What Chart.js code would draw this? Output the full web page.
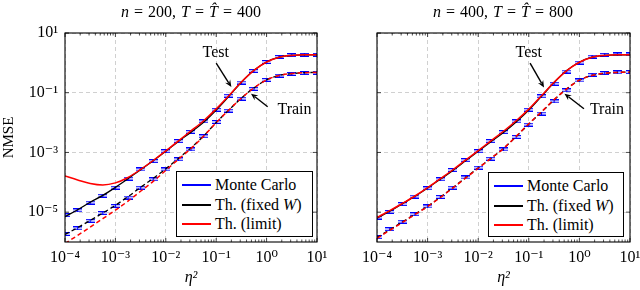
<!DOCTYPE html>
<html><head><meta charset="utf-8">
<script src="https://cdn.jsdelivr.net/npm/chart.js@4.4.1/dist/chart.umd.min.js"></script>
<style>
html,body{margin:0;padding:0;background:#fff;}
#wrap{position:relative;width:640px;height:290px;overflow:hidden;font-family:'Liberation Serif','DejaVu Serif',serif;color:#000;}
canvas{position:absolute;top:0;}
.title{position:absolute;top:3px;font-size:16px;line-height:17px;white-space:nowrap;transform:translateX(-50%);word-spacing:1px;}
.legend{position:absolute;background:#fff;border:1px solid #000;box-sizing:border-box;font-size:16px;z-index:5;}
.row{position:absolute;left:0;height:20px;line-height:20px;white-space:nowrap;}
.sw{position:absolute;left:5px;width:29px;height:2px;}
.tx{position:absolute;left:38px;top:0;}
i{font-style:italic;}
</style></head>
<body><div id="wrap">
<canvas id="cL" width="345" height="290" style="left:0"></canvas>
<canvas id="cR" width="330" height="290" style="left:320px"></canvas>
<div class="title" style="left:191px"><i>n</i> = 200, <i>T</i> = <i>T̂</i> = 400</div>
<div class="title" style="left:503px"><i>n</i> = 400, <i>T</i> = <i>T̂</i> = 800</div>
<div class="legend" style="left:176px;top:171px;width:137px;height:66px">
 <div class="row" style="top:3px"><div class="sw" style="top:9px;background:#0000ff"></div><span class="tx">Monte Carlo</span></div>
 <div class="row" style="top:23px"><div class="sw" style="top:9px;background:#000"></div><span class="tx">Th. (fixed <i>W</i>)</span></div>
 <div class="row" style="top:42px"><div class="sw" style="top:9px;background:#ff0000"></div><span class="tx">Th. (limit)</span></div>
</div>
<div class="legend" style="left:488px;top:172px;width:136px;height:65px">
 <div class="row" style="top:3px"><div class="sw" style="top:9px;background:#0000ff"></div><span class="tx">Monte Carlo</span></div>
 <div class="row" style="top:23px"><div class="sw" style="top:9px;background:#000"></div><span class="tx">Th. (fixed <i>W</i>)</span></div>
 <div class="row" style="top:42px"><div class="sw" style="top:9px;background:#ff0000"></div><span class="tx">Th. (limit)</span></div>
</div>
</div>
<script>
// ---- data ----
const ETA = [1e-4, 1.78e-4, 3.16e-4, 5.62e-4, 1e-3, 1.78e-3, 3.16e-3, 5.62e-3, 1e-2, 1.78e-2, 3.16e-2, 5.62e-2, 1e-1, 0.178, 0.316, 0.562, 1, 1.78, 3.16, 5.62, 10];

const X_TICKS = [1e-4, 1e-3, 1e-2, 1e-1, 1, 10];
const X_TICK_LABELS = ['10⁻⁴', '10⁻³', '10⁻²', '10⁻¹', '10⁰', '10¹'];
const Y_TICKS = [1e-5, 1e-3, 1e-1, 10];
const Y_TICK_LABELS = ['10⁻⁵', '10⁻³', '10⁻¹', '10¹'];

// left panel: n = 200
const L_TEST_FIXED = [7.08e-6, 1.20e-5, 2.14e-5, 3.63e-5, 6.76e-5, 1.32e-4, 2.63e-4, 5.25e-4, 1.10e-3, 2.34e-3, 4.79e-3, 1.02e-2, 2.63e-2, 7.59e-2, 0.224, 0.562, 1.07, 1.55, 1.78, 1.86, 1.86];
const L_TEST_LIMIT = [1.62e-4, 1.20e-4, 9.12e-5, 8.13e-5, 9.55e-5, 1.45e-4, 2.69e-4, 5.37e-4, 1.12e-3, 2.45e-3, 5.25e-3, 1.15e-2, 2.88e-2, 7.94e-2, 0.229, 0.562, 1.07, 1.55, 1.78, 1.86, 1.86];
const L_TRAIN_FIXED = [1.78e-6, 3.02e-6, 5.25e-6, 9.33e-6, 1.70e-5, 3.31e-5, 6.76e-5, 1.35e-4, 2.82e-4, 6.31e-4, 1.41e-3, 3.55e-3, 1.00e-2, 2.63e-2, 6.61e-2, 0.145, 0.269, 0.380, 0.437, 0.468, 0.479];
const L_TRAIN_LIMIT = [8.91e-7, 1.66e-6, 3.16e-6, 6.03e-6, 1.17e-5, 2.34e-5, 5.01e-5, 1.07e-4, 2.51e-4, 5.89e-4, 1.35e-3, 3.47e-3, 1.00e-2, 2.63e-2, 6.61e-2, 0.145, 0.269, 0.380, 0.437, 0.468, 0.479];
const L_MC_TEST = [7.94e-6, 1.15e-5, 2.09e-5, 3.55e-5, 6.61e-5, 1.32e-4, 2.69e-4, 5.13e-4, 1.10e-3, 2.40e-3, 4.90e-3, 1.10e-2, 2.69e-2, 7.94e-2, 0.219, 0.537, 1.07, 1.58, 1.82, 1.86, 1.86];
const L_MC_TRAIN = [1.86e-6, 2.88e-6, 5.13e-6, 9.33e-6, 1.62e-5, 3.09e-5, 6.61e-5, 1.26e-4, 2.69e-4, 5.89e-4, 1.26e-3, 3.47e-3, 1.05e-2, 2.51e-2, 6.31e-2, 0.135, 0.269, 0.372, 0.427, 0.457, 0.468];

// right panel: n = 400
const R_TEST_FIXED = [6.31e-6, 1.07e-5, 1.91e-5, 3.39e-5, 6.46e-5, 1.26e-4, 2.51e-4, 5.25e-4, 1.10e-3, 2.29e-3, 4.68e-3, 1.05e-2, 2.63e-2, 7.59e-2, 0.219, 0.550, 1.05, 1.55, 1.78, 1.86, 1.86];
const R_TEST_LIMIT = [6.61e-6, 1.12e-5, 1.95e-5, 3.47e-5, 6.61e-5, 1.32e-4, 2.63e-4, 5.50e-4, 1.15e-3, 2.45e-3, 5.13e-3, 1.15e-2, 2.82e-2, 7.94e-2, 0.224, 0.550, 1.05, 1.55, 1.78, 1.86, 1.86];
const R_TRAIN_FIXED = [1.41e-6, 2.57e-6, 4.68e-6, 8.51e-6, 1.58e-5, 3.16e-5, 6.61e-5, 1.41e-4, 3.02e-4, 6.31e-4, 1.35e-3, 3.39e-3, 8.91e-3, 2.24e-2, 5.75e-2, 0.135, 0.263, 0.380, 0.447, 0.479, 0.490];
const R_TRAIN_LIMIT = [1.32e-6, 2.45e-6, 4.47e-6, 8.32e-6, 1.55e-5, 3.09e-5, 6.46e-5, 1.38e-4, 2.95e-4, 6.31e-4, 1.35e-3, 3.47e-3, 9.12e-3, 2.29e-2, 5.89e-2, 0.135, 0.263, 0.380, 0.447, 0.479, 0.490];
const R_MC_TEST = [6.61e-6, 1.02e-5, 1.86e-5, 3.31e-5, 6.31e-5, 1.26e-4, 2.57e-4, 5.50e-4, 1.10e-3, 2.40e-3, 4.79e-3, 1.10e-2, 2.69e-2, 7.59e-2, 0.200, 0.513, 1.02, 1.62, 1.86, 1.91, 1.91];
const R_MC_TRAIN = [1.45e-6, 2.69e-6, 4.79e-6, 8.51e-6, 1.55e-5, 3.24e-5, 6.61e-5, 1.45e-4, 3.09e-4, 6.17e-4, 1.26e-3, 3.31e-3, 8.51e-3, 2.00e-2, 5.13e-2, 0.120, 0.257, 0.398, 0.457, 0.479, 0.490];

// annotations (data coordinates): label position, arrow tail, arrow tip
const L_NOTES = [
  {text:'Test',  tx:0.098, ty:2.2,   x1:0.1,  y1:0.98,  x2:0.2,  y2:0.155},
  {text:'Train', tx:3.58,  ty:0.027, x1:1.05, y1:0.034, x2:0.49, y2:0.093}
];
const R_NOTES = [
  {text:'Test',  tx:0.1,   ty:2.2,   x1:0.106, y1:0.98,  x2:0.2,   y2:0.15},
  {text:'Train', tx:3.5,   ty:0.026, x1:1.23,  y1:0.029, x2:0.507, y2:0.093}
];

// ---- rendering ----
const SERIF = "'Liberation Serif','DejaVu Serif',serif";

function ibeam() {
  const c = document.createElement('canvas'); c.width = 9; c.height = 4;
  const g = c.getContext('2d'); g.strokeStyle = '#0000ff'; g.lineWidth = 1.2;
  g.beginPath();
  g.moveTo(0, 0.6); g.lineTo(9, 0.6);
  g.moveTo(0, 3.4); g.lineTo(9, 3.4);
  g.moveTo(4.5, 0.6); g.lineTo(4.5, 3.4);
  g.stroke();
  return c;
}
const IBEAM = ibeam();

function pts(ys) { return ETA.map((x, i) => ({x: x, y: ys[i]})); }
function curve(label, ys, color, dashed, width) {
  return {label: label, data: pts(ys), showLine: true, borderColor: color, backgroundColor: color,
    borderWidth: width, borderDash: dashed ? [4.5, 3] : [], pointRadius: 0, pointHoverRadius: 0,
    cubicInterpolationMode: 'monotone'};
}
function mc(ys) {
  return {label: 'Monte Carlo', data: pts(ys), showLine: false, pointStyle: IBEAM, pointRadius: 5,
    borderColor: '#0000ff', backgroundColor: '#0000ff'};
}

const framePlugin = {
  id: 'frame',
  afterDatasetsDraw(chart) {
    const ctx = chart.ctx, a = chart.chartArea, xs = chart.scales.x, ys = chart.scales.y;
    ctx.save();
    ctx.strokeStyle = '#000'; ctx.lineWidth = 0.7;
    ctx.beginPath();
    for (let k = -4; k < 1; k++) {
      for (let m = 2; m <= 9; m++) {
        const px = xs.getPixelForValue(m * Math.pow(10, k));
        ctx.moveTo(px, a.bottom); ctx.lineTo(px, a.bottom - 2.5);
        ctx.moveTo(px, a.top); ctx.lineTo(px, a.top + 2.5);
      }
    }
    for (const v of X_TICKS) {
      const px = xs.getPixelForValue(v);
      ctx.moveTo(px, a.bottom); ctx.lineTo(px, a.bottom - 4);
      ctx.moveTo(px, a.top); ctx.lineTo(px, a.top + 4);
    }
    for (const v of Y_TICKS) {
      const py = ys.getPixelForValue(v);
      ctx.moveTo(a.left, py); ctx.lineTo(a.left + 4, py);
      ctx.moveTo(a.right, py); ctx.lineTo(a.right - 4, py);
    }
    ctx.stroke();
    ctx.lineWidth = 1.1;
    ctx.strokeRect(a.left, a.top, a.right - a.left, a.bottom - a.top);
    // annotations
    const notes = chart.options.plugins.frame.notes || [];
    ctx.fillStyle = '#000'; ctx.strokeStyle = '#000';
    ctx.font = '16px ' + SERIF; ctx.textAlign = 'center'; ctx.textBaseline = 'middle';
    for (const n of notes) {
      ctx.fillText(n.text, xs.getPixelForValue(n.tx), ys.getPixelForValue(n.ty));
      const x1 = xs.getPixelForValue(n.x1), y1 = ys.getPixelForValue(n.y1);
      const x2 = xs.getPixelForValue(n.x2), y2 = ys.getPixelForValue(n.y2);
      const ang = Math.atan2(y2 - y1, x2 - x1), L = 7, W = 3;
      const bx = x2 - L * Math.cos(ang), by = y2 - L * Math.sin(ang);
      ctx.lineWidth = 1.4;
      ctx.beginPath(); ctx.moveTo(x1, y1); ctx.lineTo(bx + 2 * Math.cos(ang), by + 2 * Math.sin(ang)); ctx.stroke();
      ctx.beginPath();
      ctx.moveTo(x2, y2);
      ctx.lineTo(bx + W * Math.sin(ang), by - W * Math.cos(ang));
      ctx.lineTo(bx + 0.35 * L * Math.cos(ang), by + 0.35 * L * Math.sin(ang));
      ctx.lineTo(bx - W * Math.sin(ang), by + W * Math.cos(ang));
      ctx.closePath(); ctx.fill();
    }
    ctx.restore();
  }
};

function makePanel(id, d, showY, yWidth, rightPad) {
  const datasets = [
    curve('Th. (limit)', d.testLimit, '#ff0000', false, 1.5),
    curve('Th. (limit)', d.trainLimit, '#ff0000', true, 1.5),
    curve('Th. (fixed W)', d.testFixed, '#000000', false, 1.3),
    curve('Th. (fixed W)', d.trainFixed, '#000000', true, 1.3),
    mc(d.mcTest),
    mc(d.mcTrain)
  ];
  return new Chart(document.getElementById(id), {
    type: 'scatter',
    data: {datasets: datasets},
    options: {
      responsive: false, animation: false, devicePixelRatio: 1,
      layout: {padding: {left: 0, right: rightPad, top: 33, bottom: 0}},
      plugins: {legend: {display: false}, tooltip: {enabled: false}, frame: {notes: d.notes}},
      scales: {
        x: {
          type: 'logarithmic', min: 1e-4, max: 10,
          afterBuildTicks: s => { s.ticks = X_TICKS.map(v => ({value: v})); },
          afterFit: s => { s.height = 48; },
          ticks: {autoSkip: false, maxRotation: 0, padding: 6, color: '#000',
            font: {family: SERIF, size: 16},
            callback: v => X_TICK_LABELS[X_TICKS.indexOf(v)]},
          grid: {color: '#c4c4c4', lineWidth: 0.8, drawTicks: false},
          border: {display: false, dash: [4, 3]},
          title: {display: true, text: 'η²', color: '#000', padding: {top: 0, bottom: 3},
            font: {family: SERIF, size: 16, style: 'italic'}}
        },
        y: {
          type: 'logarithmic', min: 1e-6, max: 10,
          afterBuildTicks: s => { s.ticks = Y_TICKS.map(v => ({value: v})); },
          afterFit: s => { s.width = yWidth; },
          ticks: {display: showY, padding: 7, color: '#000',
            font: {family: SERIF, size: 16},
            callback: v => Y_TICK_LABELS[Y_TICKS.indexOf(v)]},
          grid: {color: '#c4c4c4', lineWidth: 0.8, drawTicks: false},
          border: {display: false, dash: [4, 3]},
          title: {display: showY, text: 'NMSE', color: '#000', padding: {top: 0, bottom: 0},
            font: {family: SERIF, size: 15}}
        }
      }
    },
    plugins: [framePlugin]
  });
}

makePanel('cL', {testLimit: L_TEST_LIMIT, trainLimit: L_TRAIN_LIMIT, testFixed: L_TEST_FIXED,
  trainFixed: L_TRAIN_FIXED, mcTest: L_MC_TEST, mcTrain: L_MC_TRAIN, notes: L_NOTES}, true, 65, 28);
makePanel('cR', {testLimit: R_TEST_LIMIT, trainLimit: R_TRAIN_LIMIT, testFixed: R_TEST_FIXED,
  trainFixed: R_TRAIN_FIXED, mcTest: R_MC_TEST, mcTrain: R_MC_TRAIN, notes: R_NOTES}, false, 57, 20);
</script>
</body></html>
